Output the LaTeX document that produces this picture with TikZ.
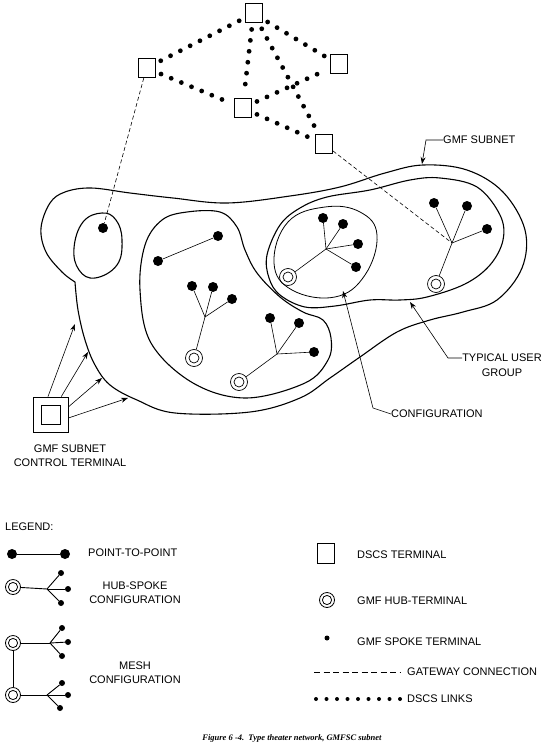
\documentclass[tikz,border=0pt]{standalone}
\usepackage{fontspec}
\setmainfont{Liberation Sans}
\newfontfamily\capfont{Liberation Serif}
\usetikzlibrary{arrows.meta}
\begin{document}
\begin{tikzpicture}[x=1pt,y=-1pt,
  dscs/.style={draw, line width=1pt, minimum width=17pt, minimum height=19pt, inner sep=0pt},
  spk/.style={circle, fill=black, minimum size=10pt, inner sep=0pt},
  sspk/.style={circle, fill=black, minimum size=6pt, inner sep=0pt},
  hub/.style={circle, draw, line width=0.7pt, minimum size=17pt, inner sep=0pt,
    path picture={\draw[line width=0.7pt] (path picture bounding box.center) circle (5pt);}},
  shub/.style={circle, draw, line width=0.8pt, minimum size=15pt, inner sep=0pt,
    path picture={\draw[line width=0.8pt] (path picture bounding box.center) circle (4.6pt);}},
  lnk/.style={line width=0.6pt},
  llnk/.style={line width=0.9pt},
  dsl/.style={line width=4.8pt, line cap=round, dash pattern=on 0pt off 11pt, shorten <=6pt, shorten >=4pt},
  gw/.style={line width=0.6pt, dash pattern=on 4pt off 2.5pt},
  bnd/.style={line width=1.1pt},
  lead/.style={line width=0.6pt, -{Stealth[length=7pt,width=5pt]}},
  lbl/.style={font=\fontsize{11}{13}\selectfont, inner sep=0pt}
]
\useasboundingbox (0,0) rectangle (550,754);

% ---------- boundaries ----------
\draw[bnd] plot[smooth, tension=0.6] coordinates {
 (75,282) (62,272) (46,252) (41,228) (50,203) (65,192)
 (91,188) (130,193) (173,198) (227,203) (290,196) (340,187) (385,173) (423,165)
 (467,170) (503,192) (525,230) (522,268) (497,300) (463,312) (430,320) (397,332)
 (360,357) (330,378) (300,398) (250,412) (175,413) (137,400) (110,385) (95,365)
 (85,340) (78,310) (75,282)};
\draw[bnd] plot[smooth cycle, tension=0.6] coordinates {
 (187,212) (220,212) (237,227) (245,250) (257,273) (280,297) (303,312) (323,320)
 (331,338) (328,360) (305,383) (246,398) (193,383) (151,343) (140,290) (145,245) (162,220)};
\draw[bnd] plot[smooth cycle, tension=0.6] coordinates {
 (267,255) (280,225) (300,208) (327,197) (370,190) (410,180) (440,178) (477,187)
 (500,215) (503,240) (490,265) (465,284) (427,297) (400,300) (370,300) (335,306)
 (305,307) (280,295) (269,278)};
\draw[line width=0.8pt] plot[smooth cycle, tension=0.7] coordinates {
 (274,263) (288,222) (325,207) (360,212) (377,235) (365,275) (335,297) (292,290)};
\draw[bnd] plot[smooth cycle, tension=0.7] coordinates {
 (102,213) (116,220) (122,240) (117,265) (95,278) (79,270) (74,248) (83,222)};

% ---------- DSCS terminals ----------
\node[dscs] (T) at (253.5,13.5) {};
\node[dscs] (L) at (146.5,68) {};
\node[dscs] (R) at (338.5,64.5) {};
\node[dscs] (M) at (242.5,108) {};
\node[dscs] (B) at (324,144) {};
\draw[dsl] (T) -- (L);
\draw[dsl] (T) -- (R);
\draw[dsl] (T) -- (M);
\draw[dsl] (T) -- (B);
\draw[dsl] (L) -- (M);
\draw[dsl] (M) -- (R);
\draw[dsl] (M) -- (B);

% ---------- left ellipse ----------
\node[spk] (d0) at (103,228) {};
\draw[gw] (L) -- (d0);

% ---------- middle blob ----------
\node[spk] (p1) at (158,261) {};
\node[spk] (p2) at (218,236) {};
\draw[lnk] (p1) -- (p2);
\coordinate (j1) at (205,317);
\node[spk] (a1) at (192,286) {};
\node[spk] (b1) at (213,287) {};
\node[spk] (c1) at (232,299) {};
\node[hub] (h1) at (194,358) {};
\draw[lnk] (h1) -- (j1); \draw[lnk] (j1) -- (a1); \draw[lnk] (j1) -- (b1); \draw[lnk] (j1) -- (c1);
\coordinate (j2) at (277,354);
\node[spk] (a2) at (270,318) {};
\node[spk] (b2) at (299,323) {};
\node[spk] (c2) at (314,352) {};
\node[hub] (h2) at (239,382) {};
\draw[lnk] (h2) -- (j2); \draw[lnk] (j2) -- (a2); \draw[lnk] (j2) -- (b2); \draw[lnk] (j2) -- (c2);

% ---------- configuration (mesh) ----------
\coordinate (cj) at (326,249);
\node[spk] (ca) at (323,218) {};
\node[spk] (cb) at (343,224) {};
\node[spk] (cc) at (358,244) {};
\node[spk] (cd) at (356,267) {};
\node[hub] (ch) at (288,277) {};
\draw[lnk] (ch) -- (cj); \draw[lnk] (cj) -- (ca); \draw[lnk] (cj) -- (cb); \draw[lnk] (cj) -- (cc); \draw[lnk] (cj) -- (cd);

% ---------- right hub-spoke ----------
\coordinate (rj) at (452,243);
\node[spk] (ra) at (434,203) {};
\node[spk] (rb) at (467,206) {};
\node[spk] (rc) at (487,229) {};
\node[hub] (rh) at (436,284) {};
\draw[lnk] (rh) -- (rj); \draw[lnk] (rj) -- (ra); \draw[lnk] (rj) -- (rb); \draw[lnk] (rj) -- (rc);
\draw[gw] (B) -- (rj);

% ---------- control terminal ----------
\node[draw, line width=0.8pt, minimum size=35pt, inner sep=0pt] (ctl) at (50.5,414.5) {};
\node[draw, line width=0.8pt, minimum size=19pt, inner sep=0pt] (ctlin) at (50.5,414.5) {};
\coordinate (e1) at (75,324);
\coordinate (e2) at (88,352);
\coordinate (e3) at (102,378);
\coordinate (e4) at (128,398);
\draw[lead] (ctl.98) -- (e1);
\draw[lead] (ctl.59) -- (e2);
\draw[lead] (ctl.23) -- (e3);
\draw[lead] (ctl.-11) -- (e4);
\node[lbl] (ctlt1) at (70,449) {GMF SUBNET};
\node[lbl] (ctlt2) at (70,463) {CONTROL TERMINAL};

% ---------- labels with leaders ----------
\node[lbl, anchor=west] (gmf) at (443,140) {GMF SUBNET};
\coordinate (gmfk) at (426,140);
\coordinate (gmft) at (422,164);
\draw[lead] (gmf.west) -- (gmfk) -- (gmft);

\node[lbl] (tu1) at (502,358) {TYPICAL USER};
\node[lbl] (tu2) at (502,373) {GROUP};
\coordinate (tuk) at (448,358);
\coordinate (tut) at (410,302);
\draw[lead] (tu1.west) -- (tuk) -- (tut);

\node[lbl, anchor=west] (cfg) at (391,414) {CONFIGURATION};
\coordinate (cfk) at (373,408);
\coordinate (cft) at (343,291);
\draw[lead] (cfg.west) -- (cfk) -- (cft);

% ---------- legend ----------
\node[lbl, anchor=west] (leg) at (5,527) {LEGEND:};

\node[spk] (lp1) at (12,554) {};
\node[spk] (lp2) at (65,554) {};
\draw[llnk] (lp1) -- (lp2);
\node[lbl, anchor=west] (lpt) at (88,553) {POINT-TO-POINT};

\node[shub] (lh) at (13,587) {};
\coordinate (lhj) at (47,589);
\node[sspk] (lha) at (61,573) {};
\node[sspk] (lhb) at (68,589) {};
\node[sspk] (lhc) at (61,603) {};
\draw[llnk] (lh) -- (lhj); \draw[llnk] (lhj) -- (lha); \draw[llnk] (lhj) -- (lhb); \draw[llnk] (lhj) -- (lhc);
\node[lbl] (lht1) at (135,586) {HUB-SPOKE};
\node[lbl] (lht2) at (135,600) {CONFIGURATION};

\node[shub] (lm1) at (13,643) {};
\coordinate (lm1j) at (50,643);
\node[sspk] (lm1a) at (62,628) {};
\node[sspk] (lm1b) at (68,642) {};
\node[sspk] (lm1c) at (62,656) {};
\draw[llnk] (lm1) -- (lm1j); \draw[llnk] (lm1j) -- (lm1a); \draw[llnk] (lm1j) -- (lm1b); \draw[llnk] (lm1j) -- (lm1c);
\node[shub] (lm2) at (13,695) {};
\coordinate (lm2j) at (47,695);
\node[sspk] (lm2a) at (62,683) {};
\node[sspk] (lm2b) at (68,695) {};
\node[sspk] (lm2c) at (60,708) {};
\draw[llnk] (lm2) -- (lm2j); \draw[llnk] (lm2j) -- (lm2a); \draw[llnk] (lm2j) -- (lm2b); \draw[llnk] (lm2j) -- (lm2c);
\draw[llnk] (lm1) -- (lm2);
\node[lbl] (lmt1) at (135,666) {MESH};
\node[lbl] (lmt2) at (135,680) {CONFIGURATION};

\node[dscs, minimum width=17pt, minimum height=20pt] (ld) at (325.5,553) {};
\node[lbl, anchor=west] (ldt) at (357,555) {DSCS TERMINAL};
\node[shub] (lgh) at (327,600) {};
\node[lbl, anchor=west] (lght) at (357,601) {GMF HUB-TERMINAL};
\node[circle, fill=black, minimum size=5pt, inner sep=0pt] (lgs) at (327,638) {};
\node[lbl, anchor=west] (lgst) at (357,642) {GMF SPOKE TERMINAL};
\coordinate (lg1) at (314,672);
\node[lbl, anchor=west] (lgwt) at (407,672) {GATEWAY CONNECTION};
\draw[gw, line width=1pt, dash pattern=on 6pt off 3.5pt, shorten >=6pt] (lg1) -- (lgwt.west);
\coordinate (ll1) at (316,699);
\node[lbl, anchor=west] (lllt) at (407,699) {DSCS LINKS};
\draw[line width=4pt, line cap=round, dash pattern=on 0pt off 10.5pt, shorten >=6pt] (ll1) -- (lllt.west);

% ---------- caption ----------
\node[font=\capfont\fontsize{8.5}{10}\selectfont\bfseries\itshape, inner sep=0pt] (cap) at (292,738)
  {Figure 6 -4.\ \ Type theater network, GMFSC subnet};
\end{tikzpicture}
\end{document}
